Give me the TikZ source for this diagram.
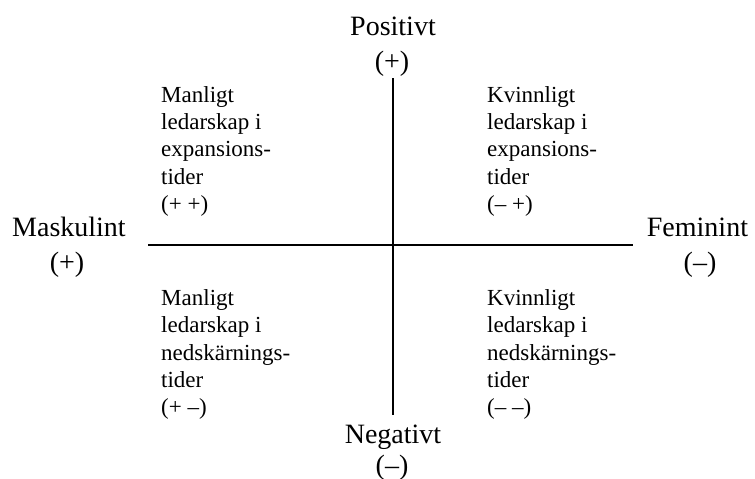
\documentclass[tikz,border=0pt]{standalone}
\usepackage{fontspec}
\setmainfont{Liberation Serif}
\begin{document}
\begin{tikzpicture}[x=1pt,y=-1pt,
  big/.style={font=\fontsize{28}{34}\selectfont, inner sep=0pt},
  quad/.style={font=\fontsize{23}{27.3}\selectfont, inner sep=0pt, align=left, anchor=north west},
  axis/.style={line width=2.2pt}]
\useasboundingbox (0,0) rectangle (755,479);
% axis ends
\coordinate (vt) at (393,78);
\coordinate (vb) at (393,415);
\coordinate (hl) at (148,245);
\coordinate (hr) at (633,245);
\draw[axis] (vt) -- (vb);
\draw[axis] (hl) -- (hr);
% axis labels
\node[big, anchor=base] (pos) at (393,35) {Positivt};
\node[big, anchor=base] (posS) at (392,70) {(+)};
\node[big, anchor=base] (neg) at (393,443.5) {Negativt};
\node[big, anchor=base] (negS) at (392,474) {(–)};
\node[big, anchor=base west] (mask) at (12,236.7) {Maskulint};
\node[big, anchor=base] (maskS) at (67,271.7) {(+)};
\node[big, anchor=base west] (fem) at (646.7,236.7) {Feminint};
\node[big, anchor=base] (femS) at (700,271.7) {(–)};
% quadrants
\node[quad] (q1) at (161,86) {Manligt\\ledarskap i\\expansions-\\tider\\(+ +)};
\node[quad] (q2) at (487,86) {Kvinnligt\\ledarskap i\\expansions-\\tider\\(– +)};
\node[quad] (q3) at (161,289.5) {Manligt\\ledarskap i\\nedskärnings-\\tider\\(+ –)};
\node[quad] (q4) at (487,289.5) {Kvinnligt\\ledarskap i\\nedskärnings-\\tider\\(– –)};
\end{tikzpicture}
\end{document}
